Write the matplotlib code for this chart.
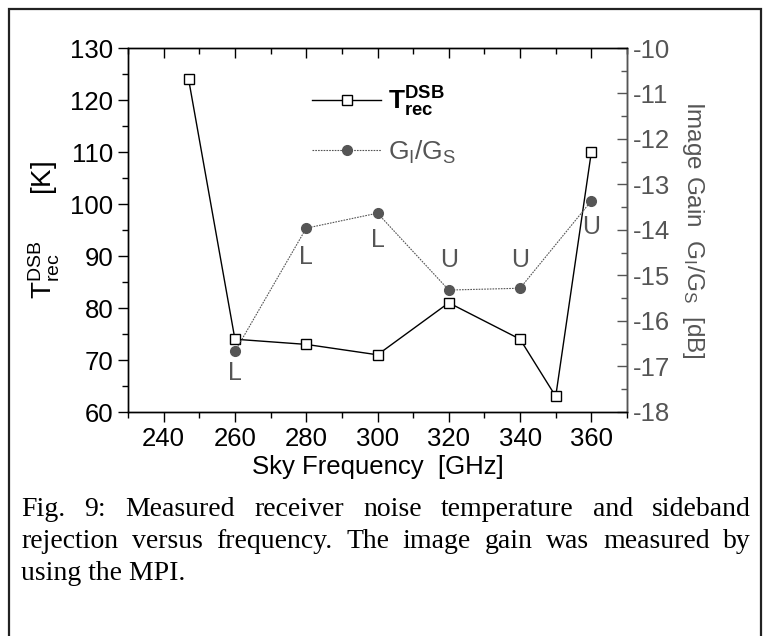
import numpy as np
import matplotlib
matplotlib.use('Agg')
import matplotlib.pyplot as plt
from matplotlib.lines import Line2D
from matplotlib.patches import Rectangle

plt.rcParams['font.family'] = ['Liberation Sans', 'DejaVu Sans']
plt.rcParams['mathtext.fontset'] = 'custom'
plt.rcParams['mathtext.rm'] = 'Liberation Sans'
plt.rcParams['mathtext.it'] = 'Liberation Sans'
plt.rcParams['mathtext.bf'] = 'Liberation Sans:bold'
plt.rcParams['axes.unicode_minus'] = False

# data
freq_t = [247, 260, 280, 300, 320, 340, 350, 360]
t_rec = [124, 74, 73, 71, 81, 74, 63, 110]

freq_g = [260, 280, 300, 320, 340, 360]
gain = [-16.67, -13.96, -13.63, -15.32, -15.28, -13.36]
sideband = ['L', 'L', 'L', 'U', 'U', 'U']
label_y = [67.5, 89.8, 93.0, 89.2, 89.2, 95.6]   # on the left axis scale

caption = ["Fig. 9: Measured receiver noise temperature and sideband",
           "rejection versus frequency. The image gain was measured by",
           "using the MPI."]

grey = '#555555'

fig = plt.figure(figsize=(7.64, 6.36), dpi=100)
W, H = 764, 636

# outer frame
fig.patches.append(Rectangle((9 / W, -0.01), 752 / W, 1 - 9 / H + 0.01,
                             transform=fig.transFigure, fill=False,
                             edgecolor='#222222', lw=1.6))

ax1 = fig.add_axes([128 / W, 1 - 412 / H, (627 - 128) / W, (412 - 48) / H])
ax2 = ax1.twinx()

ax1.plot(freq_t, t_rec, color='black', lw=1.0, marker='s', ms=6.5,
         mfc='white', mec='black', mew=1.0, zorder=3)
ax2.plot(freq_g, gain, color=grey, lw=0.8, ls=(0, (1.5, 1)), marker='o',
         ms=7, mfc=grey, mec=grey, zorder=2)

for x, s, y in zip(freq_g, sideband, label_y):
    ax1.text(x, y, s, color=grey, fontsize=18, ha='center', va='center')

ax1.set_xlim(230, 370)
ax1.set_ylim(60, 130)
ax2.set_ylim(-18, -10)

ax1.set_xticks(np.arange(240, 361, 20))
ax1.set_xticks(np.arange(230, 371, 10), minor=True)
ax1.set_yticks(np.arange(60, 131, 10))
ax1.set_yticks(np.arange(65, 130, 10), minor=True)
ax2.set_yticks(np.arange(-18, -9, 1))
ax2.set_yticks(np.arange(-17.5, -10, 1), minor=True)

ax1.tick_params(axis='both', which='major', labelsize=18.5, length=7, width=1)
ax1.tick_params(axis='both', which='minor', length=4, width=1)
ax1.tick_params(axis='x', which='both', direction='out', top=True)
ax1.tick_params(axis='y', which='both', direction='out')
ax2.tick_params(axis='y', which='major', direction='in', labelsize=18.5,
                length=7, width=1, colors=grey, labelcolor=grey, pad=4)
ax2.tick_params(axis='y', which='minor', direction='in', length=4,
                width=1, colors=grey)
# top ticks point inward
for t in ax1.xaxis.get_major_ticks() + ax1.xaxis.get_minor_ticks():
    t.tick2line.set_marker(3)

for a in (ax1, ax2):
    for sp in a.spines.values():
        sp.set_linewidth(1.0)
ax2.spines['right'].set_color(grey)

ax1.set_xlabel('Sky Frequency  [GHz]', fontsize=18.5, labelpad=3)
ax1.set_ylabel(r'T$_{rec}^{DSB}$      [K]', fontsize=20, labelpad=6)
ax2.set_ylabel(r'Image Gain  G$_I$/G$_S$  [dB]', fontsize=17.5, color=grey,
               rotation=-90, labelpad=26)

handles = [Line2D([], [], color='black', lw=1.0, marker='s', ms=6.5,
                  mfc='white', mec='black'),
           Line2D([], [], color=grey, lw=0.8, ls=(0, (1.5, 1)), marker='o',
                  ms=7, mfc=grey, mec=grey)]
leg = ax1.legend(handles, [r'$\mathbf{T_{rec}^{DSB}}$', r'G$_I$/G$_S$'],
                 loc='upper left', bbox_to_anchor=(0.322, 0.965),
                 frameon=False, fontsize=19, handlelength=2.6,
                 handletextpad=0.25, labelspacing=0.75)
leg.get_texts()[1].set_color(grey)

# justified caption
fig.canvas.draw()
renderer = fig.canvas.get_renderer()
left, right = 21, 751
baselines = [516, 548, 580]
for line, yb in zip(caption, baselines):
    words = line.split()
    yf = 1 - yb / H
    if line is caption[-1]:
        fig.text(left / W, yf, line, fontsize=20, family='Liberation Serif',
                 va='baseline', ha='left')
        continue
    texts = [fig.text(0, yf, w, fontsize=20, family='Liberation Serif',
                      va='baseline', ha='left') for w in words]
    widths = [t.get_window_extent(renderer).width for t in texts]
    gap = (right - left - sum(widths)) / (len(words) - 1)
    x = left
    for t, w in zip(texts, widths):
        t.set_x(x / W)
        x += w + gap

fig.savefig('out.png', dpi=100)
